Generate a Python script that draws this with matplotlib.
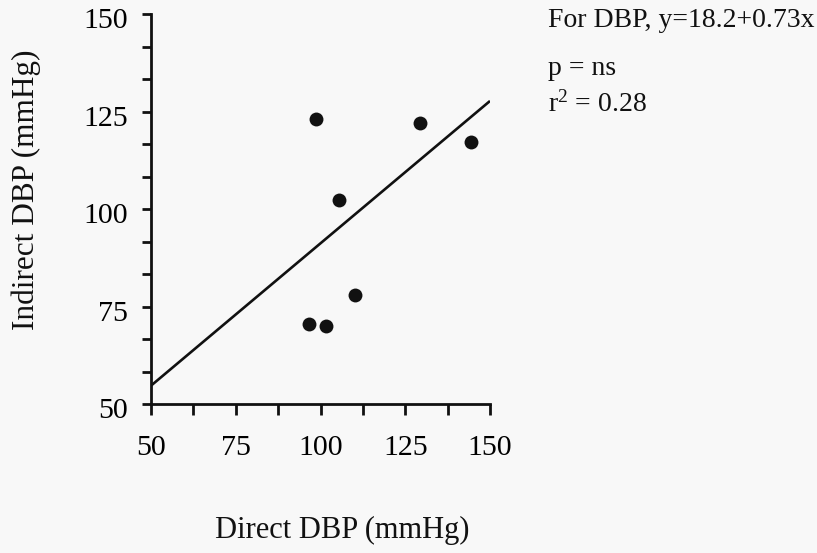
import matplotlib
matplotlib.use("Agg")
import matplotlib.pyplot as plt
import matplotlib.transforms as mtransforms
import numpy as np

# Data
direct_dbp = [98.7, 129.3, 144.4, 105.6, 110.1, 96.6, 101.5]
indirect_dbp = [123.2, 122.1, 117.2, 102.3, 78.0, 70.6, 70.0]
intercept = 18.2
slope = 0.73
major_ticks = [50, 75, 100, 125, 150]
annotation_lines = ["For DBP, y=18.2+0.73x", "p = ns", r"$\mathrm{r}^{2}$ = 0.28"]

plt.rcParams['font.family'] = ['Liberation Serif', 'DejaVu Serif']
plt.rcParams['mathtext.fontset'] = 'custom'
plt.rcParams['mathtext.rm'] = 'Liberation Serif'
plt.rcParams['mathtext.it'] = 'Liberation Serif:italic'

W, H = 817, 553
bg = '#f8f8f8'
ink = '#111111'
fig = plt.figure(figsize=(W / 100, H / 100), dpi=100, facecolor=bg)
x0, x1, ytop, ybot = 151, 490, 14, 404
ax = fig.add_axes([x0 / W, 1 - ybot / H, (x1 - x0) / W, (ybot - ytop) / H])
ax.set_facecolor(bg)

ax.scatter(direct_dbp, indirect_dbp, s=100, color=ink, zorder=3, linewidths=0)
xs = np.array([50, 150])
ax.plot(xs, intercept + slope * xs, color=ink, lw=1.9, solid_capstyle='butt')

ax.set_xlim(50, 150)
ax.set_ylim(50, 150)
ax.set_xticks(major_ticks)
ax.set_yticks(major_ticks)
ax.set_xticks(np.arange(50, 150.1, 12.5), minor=True)
ax.set_yticks(np.arange(50, 150.1, 100 / 12), minor=True)

for s in ['top', 'right']:
    ax.spines[s].set_visible(False)
for s in ['left', 'bottom']:
    ax.spines[s].set_linewidth(2.0)
    ax.spines[s].set_color(ink)

ax.tick_params(axis='x', which='both', direction='out', length=8, width=2.0,
               color=ink, labelsize=21.5, pad=14)
ax.tick_params(axis='y', which='both', direction='out', length=6.5, width=2.0,
               color=ink, labelsize=21.5, pad=10)

# y tick labels sit slightly below their ticks in the original
offset = mtransforms.ScaledTranslation(0, -0.04, fig.dpi_scale_trans)
for lab in ax.get_yticklabels():
    lab.set_transform(lab.get_transform() + offset)

ax.set_xlabel("Direct DBP (mmHg)", fontsize=22, color=ink)
ax.xaxis.label.set_verticalalignment('baseline')
ax.xaxis.set_label_coords((342 - x0) / (x1 - x0), (ybot - 538) / (ybot - ytop))

ax.set_ylabel("Indirect DBP (mmHg)", fontsize=22.5, color=ink)
ax.yaxis.label.set_verticalalignment('baseline')
ax.yaxis.set_label_coords((34 - x0) / (x1 - x0), (ybot - 190) / (ybot - ytop))

ys = [27, 75, 112]
for t, yb in zip(annotation_lines, ys):
    fig.text(548 / W, 1 - yb / H, t, fontsize=20, va='baseline', ha='left', color=ink)

fig.savefig("out.png", dpi=100, facecolor=bg)
